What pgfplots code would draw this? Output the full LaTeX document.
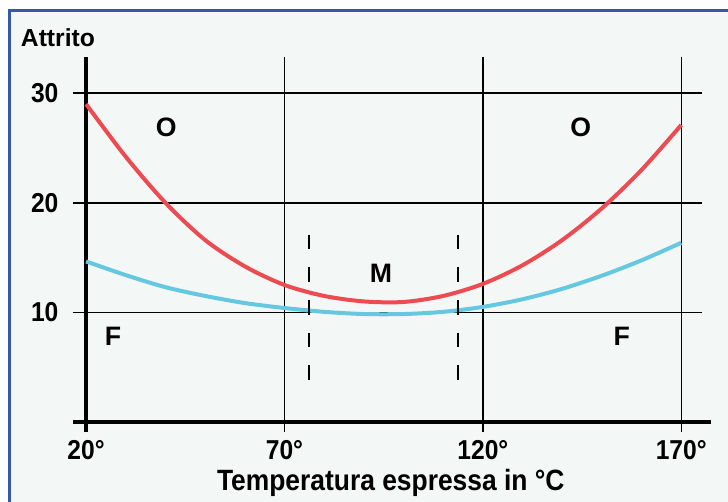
\documentclass[border=0pt]{standalone}
\usepackage{fontspec}
\setmainfont{Liberation Sans}
\newfontfamily\narrowfont[FakeStretch=0.9]{Liberation Sans}
\usepackage{pgfplots}
\pgfplotsset{compat=1.18}
\definecolor{bg}{HTML}{F3F8F7}
\definecolor{framec}{HTML}{3558A8}
\definecolor{redc}{HTML}{EC4B52}
\definecolor{bluec}{HTML}{66C8E0}

\begin{document}
\begin{tikzpicture}
% page and frame, in pixels of the reference
\begin{scope}[x=0.75pt,y=-0.75pt,shift={(-54.75pt,316.5pt)}]
\useasboundingbox (0,0) rectangle (728,501);
\fill[white] (0,0) rectangle (728,501);
\filldraw[fill=bg,draw=framec,line width=2.4pt] (9.5,10.5) rectangle (745,520);
\end{scope}

\begin{axis}[
    scale only axis,
    width=478.5pt, height=273.75pt,
    xmin=16.7, xmax=177.5,
    ymin=0, ymax=33.3,
    hide axis,
    clip=false,
]
% grid
\draw[line width=1.1pt] (axis cs:16.7,10) -- (axis cs:175.2,10);
\draw[line width=1.1pt] (axis cs:16.7,20) -- (axis cs:175.2,20);
\draw[line width=1.1pt] (axis cs:16.7,30) -- (axis cs:175.2,30);
\draw[line width=1.1pt] (axis cs:70,-0.9) -- (axis cs:70,33.3);
\draw[line width=1.1pt] (axis cs:120,-0.9) -- (axis cs:120,33.3);
\draw[line width=1.1pt] (axis cs:170,-0.9) -- (axis cs:170,33.3);
% axes
\draw[line width=2.6pt] (axis cs:20,-0.9) -- (axis cs:20,33.3);
\draw[line width=2.6pt] (axis cs:16.7,0) -- (axis cs:177.5,0);

% curves
\addplot[bluec, line width=3pt, smooth] coordinates {
  (20,14.65) (30,13.4) (40,12.3) (50,11.5) (60,10.85) (70,10.4) (80,10.05)
  (90,9.85) (100,9.85) (110,10.05) (120,10.5) (130,11.2) (140,12.15)
  (150,13.35) (160,14.75) (170,16.35)};
\addplot[redc, line width=3pt, smooth] coordinates {
  (20,29.0) (30,24.2) (40,20.0) (50,16.6) (60,14.2) (70,12.5) (80,11.5)
  (90,11.0) (100,10.95) (110,11.5) (120,12.6) (130,14.3)
  (140,16.6) (150,19.5) (160,23.0) (170,27.1)};

% zone M limits
\draw[line width=1.5pt, dash pattern=on 11pt off 13.5pt] (axis cs:76.2,17.1) -- (axis cs:76.2,3.1);
\draw[line width=1.5pt, dash pattern=on 11pt off 13.5pt] (axis cs:113.7,17.1) -- (axis cs:113.7,3.1);

% text
\begin{scope}[font=\narrowfont\fontsize{20.5}{24}\selectfont\bfseries]
\node[anchor=east] at (axis cs:14.2,10) {10};
\node[anchor=east] at (axis cs:14.2,20) {20};
\node[anchor=east] at (axis cs:14.2,30) {30};
\node at (axis cs:20,-2.6) {20°};
\node at (axis cs:70,-2.6) {70°};
\node at (axis cs:120,-2.6) {120°};
\node at (axis cs:170,-2.6) {170°};
\end{scope}
\begin{scope}[font=\fontsize{20}{24}\selectfont\bfseries]
\node at (axis cs:40.2,26.9) {O};
\node at (axis cs:144.7,26.9) {O};
\node at (axis cs:26.8,7.8) {F};
\node at (axis cs:155,7.8) {F};
\node at (axis cs:94.3,13.6) {M};
\end{scope}
\node[anchor=west, font=\fontsize{18.5}{22}\selectfont\bfseries] at (axis cs:2.4,35.1) {Attrito};
\node[font=\narrowfont\fontsize{22}{26}\selectfont\bfseries] at (axis cs:96.8,-5.57) {Temperatura espressa in °C};
\end{axis}
\end{tikzpicture}
\end{document}
